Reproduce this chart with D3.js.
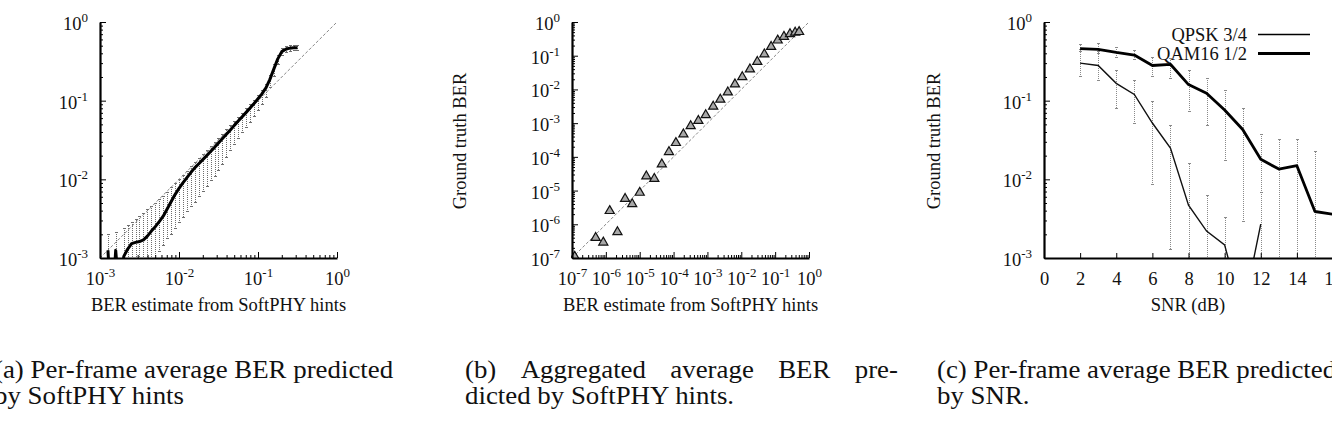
<!DOCTYPE html>
<html><head><meta charset="utf-8">
<script src="https://cdn.jsdelivr.net/npm/d3@7"></script>
<style>
body{margin:0;background:#fff;}
svg{display:block;font-family:"Liberation Serif","Times New Roman",serif;}
</style></head><body>
<svg id="chart" width="1332" height="432"></svg>
<script>
// ---------- Panel (a): per-frame average BER vs SoftPHY estimate ----------
const aEst  = [0.00126,0.00141,0.00158,0.00178,0.00200,0.00224,0.00251,0.00282,0.00316,0.00355,0.00398,0.00447,0.00501,0.00562,0.00631,0.00708,0.00794,0.00891,0.0100,0.0112,0.0126,0.0141,0.0158,0.0178,0.0200,0.0224,0.0251,0.0282,0.0316,0.0355,0.0398,0.0447,0.0501,0.0562,0.0631,0.0708,0.0794,0.0891,0.100,0.112,0.126,0.141,0.158,0.178,0.200,0.224,0.251,0.282,0.316];
const aMean = [0.00125,0.0002,0.00125,0.0003,0.00105,0.0013,0.00152,0.00158,0.00162,0.0017,0.0019,0.0022,0.0025,0.0029,0.0034,0.0042,0.0052,0.0064,0.0077,0.0090,0.0105,0.0122,0.0140,0.0158,0.0178,0.0200,0.0226,0.0255,0.0290,0.0330,0.0375,0.0425,0.0485,0.0550,0.0625,0.0710,0.0805,0.0920,0.106,0.122,0.145,0.185,0.250,0.340,0.420,0.450,0.465,0.470,0.470];
const aLo   = [0.0001,0.0001,0.0001,0.0001,0.0002,0.0002,0.0002,0.0002,0.0002,0.0003,0.0004,0.0006,0.0010,0.0012,0.00145,0.00175,0.0020,0.00235,0.0028,0.0033,0.0039,0.0045,0.0051,0.0060,0.0070,0.0082,0.0096,0.0110,0.0130,0.0155,0.0190,0.0230,0.0275,0.0330,0.0390,0.0450,0.0530,0.0630,0.0750,0.090,0.110,0.145,0.205,0.290,0.370,0.410,0.425,0.430,0.430];
const aHi   = [0.0020,0.0008,0.0021,0.0009,0.0024,0.0026,0.0028,0.0031,0.0034,0.0037,0.0041,0.0045,0.0050,0.0055,0.0061,0.0069,0.0078,0.0088,0.0099,0.0112,0.0127,0.0144,0.0163,0.0184,0.0207,0.0233,0.0262,0.0295,0.0333,0.0375,0.0425,0.0480,0.0545,0.0615,0.0695,0.0785,0.0885,0.101,0.116,0.133,0.160,0.210,0.285,0.380,0.460,0.490,0.505,0.510,0.510];
const aTickExps = [-3,-2,-1,0];

// ---------- Panel (b): aggregated average BER ----------
const bEst   = [1.2e-7,5.0e-7,8.4e-7,1.3e-6,2.2e-6,3.7e-6,6.0e-6,1.0e-5,1.57e-5,2.7e-5,4.5e-5,7.3e-5,1.17e-4,1.95e-4,3.2e-4,5.4e-4,8.9e-4,1.48e-3,2.4e-3,4.0e-3,6.5e-3,0.0107,0.018,0.0297,0.048,0.076,0.119,0.182,0.275,0.39,0.51];
const bTruth = [1.1e-7,4.0e-7,2.9e-7,2.5e-6,5.9e-7,5.7e-6,4.0e-6,8.7e-6,2.65e-5,2.25e-5,6.0e-5,1.4e-4,2.6e-4,4.7e-4,8.2e-4,1.18e-3,1.74e-3,3.1e-3,5.0e-3,8.2e-3,0.0142,0.0234,0.0395,0.066,0.11,0.185,0.285,0.367,0.44,0.49,0.51];
const bTickExps = [-7,-6,-5,-4,-3,-2,-1,0];

// ---------- Panel (c): BER vs SNR ----------
const cXTicks  = [0,2,4,6,8,10,12,14,16];
const cTickExps = [-3,-2,-1,0];
const seriesNames = ["QPSK 3/4","QAM16 1/2"];
const qpskSnr = [2,3,4,5,6,7,8,9,10,11,12];
const qpskBer = [0.30,0.28,0.166,0.12,0.052,0.025,0.0047,0.0022,0.00147,0.0002,0.0027];
const qpskLo  = [0.20,0.18,0.08,0.051,0.0085,0.0013,0.0003,0.0003,0.0003,0.0001,0.0003];
const qpskHi  = [0.45,0.42,0.245,0.18,0.097,0.048,0.016,0.0063,0.0033,0.0003,0.0068];
const qamSnr  = [2,3,4,5,6,7,8,9,10,11,12,13,14,15,16];
const qamBer  = [0.46,0.45,0.41,0.38,0.28,0.29,0.16,0.124,0.076,0.043,0.018,0.0135,0.0149,0.0039,0.0036];
const qamLo   = [0.42,0.40,0.35,0.33,0.20,0.19,0.072,0.049,0.0173,0.0029,0.0004,0.0004,0.0004,0.0004,0.0004];
const qamHi   = [0.52,0.54,0.47,0.44,0.355,0.34,0.245,0.19,0.134,0.08,0.037,0.032,0.032,0.0225,0.009];

// ---------- Texts ----------
const xTitleSoft = "BER estimate from SoftPHY hints";
const xTitleSnr = "SNR (dB)";
const yTitle = "Ground truth BER";
const captionA = ["(a) Per-frame average BER predicted", "by SoftPHY hints"];
const captionB = ["(b) Aggregated average BER pre-", "dicted by SoftPHY hints."];
const captionC = ["(c) Per-frame average BER predicted", "by SNR."];

// ================= drawing =================
const svg = d3.select("#chart");
const FS = 18.5, SUP = 13;
const TOP = 22, BOT = 258;

function supText(g, x, y, exp, anchor) {
  const t = g.append("text").attr("x", x).attr("y", y).attr("text-anchor", anchor)
    .attr("font-size", FS).attr("fill", "#111");
  t.append("tspan").text("10");
  t.append("tspan").attr("dy", -8).attr("font-size", SUP).text(exp);
  return t;
}

function styleAxis(g) {
  g.attr("font-size", null).attr("font-family", null);
  g.select(".domain").attr("stroke", "#000").attr("stroke-width", 2.2);
  g.selectAll(".tick line").attr("stroke", "#000").attr("stroke-width", 1);
  g.selectAll(".tick text").remove();
}

function logAxisX(g, x, exps, bottom) {
  const major = exps.map(e => Math.pow(10, e));
  const minor = x.ticks().filter(v => !major.some(m => Math.abs(m - v) / m < 1e-6));
  const gm = g.append("g").attr("transform", `translate(0,${bottom})`)
    .call(d3.axisBottom(x).tickValues(minor).tickSizeInner(-3).tickSizeOuter(0).tickFormat(() => ""));
  styleAxis(gm); gm.select(".domain").remove();
  const ga = g.append("g").attr("transform", `translate(0,${bottom})`)
    .call(d3.axisBottom(x).tickValues(major).tickSizeInner(-6).tickSizeOuter(0).tickFormat(() => ""));
  styleAxis(ga);
  ga.selectAll(".tick").each(function(d, i) {
    supText(d3.select(this), 0, 27, String(exps[i]), "middle");
  });
}

function logAxisY(g, y, exps, left) {
  const major = exps.map(e => Math.pow(10, e));
  const minor = y.ticks().filter(v => !major.some(m => Math.abs(m - v) / m < 1e-6));
  const gm = g.append("g").attr("transform", `translate(${left},0)`)
    .call(d3.axisLeft(y).tickValues(minor).tickSizeInner(-3).tickSizeOuter(0).tickFormat(() => ""));
  styleAxis(gm); gm.select(".domain").remove();
  const ga = g.append("g").attr("transform", `translate(${left},0)`)
    .call(d3.axisLeft(y).tickValues(major).tickSizeInner(-6).tickSizeOuter(0).tickFormat(() => ""));
  styleAxis(ga);
  ga.selectAll(".tick").each(function(d, i) {
    supText(d3.select(this), -12, 7.5, String(exps[i]), "end");
  });
}

function clip(id, x0, x1) {
  svg.append("clipPath").attr("id", id).append("rect")
    .attr("x", x0 - 1).attr("y", TOP - 4).attr("width", x1 - x0 + 6).attr("height", BOT - TOP + 4);
}

function errorBars(g, xs, los, his, x, y, capW, color) {
  const grp = g.append("g").attr("stroke", color).attr("stroke-width", 1).attr("fill", "none")
    .attr("shape-rendering", "crispEdges");
  xs.forEach((xv, i) => {
    const px = Math.round(x(xv)) + 0.5, y1 = y(los[i]), y2 = y(his[i]);
    grp.append("line").attr("x1", px).attr("x2", px).attr("y1", y1).attr("y2", y2)
      .attr("stroke-dasharray", "1,1");
    grp.append("line").attr("x1", px - capW).attr("x2", px + capW).attr("y1", y1).attr("y2", y1);
    grp.append("line").attr("x1", px - capW).attr("x2", px + capW).attr("y1", y2).attr("y2", y2);
  });
}

function xTitle(cx, text) {
  svg.append("text").attr("x", cx).attr("y", 311).attr("text-anchor", "middle")
    .attr("font-size", FS).attr("fill", "#111").text(text);
}
function yTitleAt(x, text) {
  svg.append("text").attr("transform", `translate(${x},141) rotate(-90)`)
    .attr("text-anchor", "middle").attr("font-size", FS).attr("fill", "#111").text(text);
}

// ----- Panel a -----
{
  const xa = d3.scaleLog().domain([1e-3, 1]).range([100, 337]);
  const ya = d3.scaleLog().domain([1e-3, 1]).range([BOT, TOP]);
  clip("clipA", 100, 337);
  const g = svg.append("g");
  const plot = g.append("g").attr("clip-path", "url(#clipA)");
  errorBars(plot, aEst, aLo, aHi, xa, ya, 1.5, "#6e6e6e");
  plot.append("line").attr("x1", xa(1e-3)).attr("y1", ya(1e-3)).attr("x2", xa(1)).attr("y2", ya(1))
    .attr("stroke", "#888").attr("stroke-width", 1).attr("stroke-dasharray", "3,2");
  plot.append("path").datum(aEst.map((v, i) => [v, aMean[i]]))
    .attr("d", d3.line().x(d => xa(d[0])).y(d => ya(d[1])))
    .attr("fill", "none").attr("stroke", "#000").attr("stroke-width", 3).attr("stroke-linejoin", "round");
  logAxisX(g, xa, aTickExps, BOT);
  logAxisY(g, ya, aTickExps, 100);
  xTitle(218.5, xTitleSoft);
}

// ----- Panel b -----
{
  const xb = d3.scaleLog().domain([1e-7, 1]).range([572, 809]);
  const yb = d3.scaleLog().domain([1e-7, 1]).range([BOT, TOP]);
  clip("clipB", 572, 809);
  const g = svg.append("g");
  const plot = g.append("g").attr("clip-path", "url(#clipB)");
  plot.append("line").attr("x1", xb(1e-7)).attr("y1", yb(1e-7)).attr("x2", xb(1)).attr("y2", yb(1))
    .attr("stroke", "#888").attr("stroke-width", 1).attr("stroke-dasharray", "3,2");
  plot.selectAll("path.pt").data(bEst.map((v, i) => [v, bTruth[i]])).enter().append("path")
    .attr("class", "pt")
    .attr("transform", d => `translate(${xb(d[0])},${yb(d[1])})`)
    .attr("d", d3.symbol().type(d3.symbolTriangle).size(36))
    .attr("fill", "#a8a8a8").attr("stroke", "#111").attr("stroke-width", 1.2);
  logAxisX(g, xb, bTickExps, BOT);
  logAxisY(g, yb, bTickExps, 572);
  xTitle(690.5, xTitleSoft);
  yTitleAt(466, yTitle);
}

// ----- Panel c -----
{
  const xc = d3.scaleLinear().domain([0, 16]).range([1044, 1333]);
  const yc = d3.scaleLog().domain([1e-3, 1]).range([BOT, TOP]);
  clip("clipC", 1044, 1333);
  const g = svg.append("g");
  const plot = g.append("g").attr("clip-path", "url(#clipC)");
  errorBars(plot, qamSnr, qamLo, qamHi, xc, yc, 1.8, "#8a8a8a");
  errorBars(plot, qpskSnr, qpskLo, qpskHi, xc, yc, 1.8, "#8a8a8a");
  const line = d3.line().x(d => xc(d[0])).y(d => yc(d[1]));
  plot.append("path").datum(qpskSnr.map((v, i) => [v, qpskBer[i]])).attr("d", line)
    .attr("fill", "none").attr("stroke", "#111").attr("stroke-width", 1.4);
  plot.append("path").datum(qamSnr.map((v, i) => [v, qamBer[i]])).attr("d", line)
    .attr("fill", "none").attr("stroke", "#000").attr("stroke-width", 2.8).attr("stroke-linejoin", "round");
  // axes
  const gx = g.append("g").attr("transform", `translate(0,${BOT})`)
    .call(d3.axisBottom(xc).tickValues(cXTicks).tickSizeInner(-5).tickSizeOuter(0));
  gx.attr("font-size", null).attr("font-family", null);
  gx.select(".domain").attr("stroke", "#000").attr("stroke-width", 2.2);
  gx.selectAll(".tick line").attr("stroke", "#000");
  gx.selectAll(".tick text").attr("y", 27).attr("dy", null).attr("font-size", FS).attr("fill", "#111");
  logAxisY(g, yc, cTickExps, 1044);
  xTitle(1188, xTitleSnr);
  yTitleAt(940, yTitle);
  // legend
  const widths = [1.4, 2.8];
  const lg = svg.append("g");
  seriesNames.forEach((name, i) => {
    const yy = 34.5 + i * 19;
    lg.append("text").attr("x", 1247).attr("y", yy + 6.5).attr("text-anchor", "end")
      .attr("font-size", FS).attr("fill", "#111").text(name);
    lg.append("line").attr("x1", 1258).attr("x2", 1310).attr("y1", yy).attr("y2", yy)
      .attr("stroke", "#000").attr("stroke-width", widths[i]);
  });
}

// ----- Captions -----
const CFS = 25, CSX = 1.075;
function caption(lines, x, justifyFirst, width) {
  const g = svg.append("g").attr("transform", `translate(${x},0) scale(${CSX},1)`)
    .attr("font-size", CFS).attr("fill", "#111");
  if (justifyFirst) {
    const words = lines[0].split(" ");
    const els = words.map(w => g.append("text").attr("y", 378).text(w));
    const ws = els.map(e => e.node().getComputedTextLength());
    const gap = (width / CSX - d3.sum(ws)) / (words.length - 1);
    let cx = 0;
    els.forEach((e, i) => { e.attr("x", cx); cx += ws[i] + gap; });
  } else {
    g.append("text").attr("x", 0).attr("y", 378).text(lines[0]);
  }
  g.append("text").attr("x", 0).attr("y", 404).text(lines[1]);
}
caption(captionA, -6, false, 0);
caption(captionB, 465, true, 433);
caption(captionC, 937, false, 0);
</script>
</body></html>
